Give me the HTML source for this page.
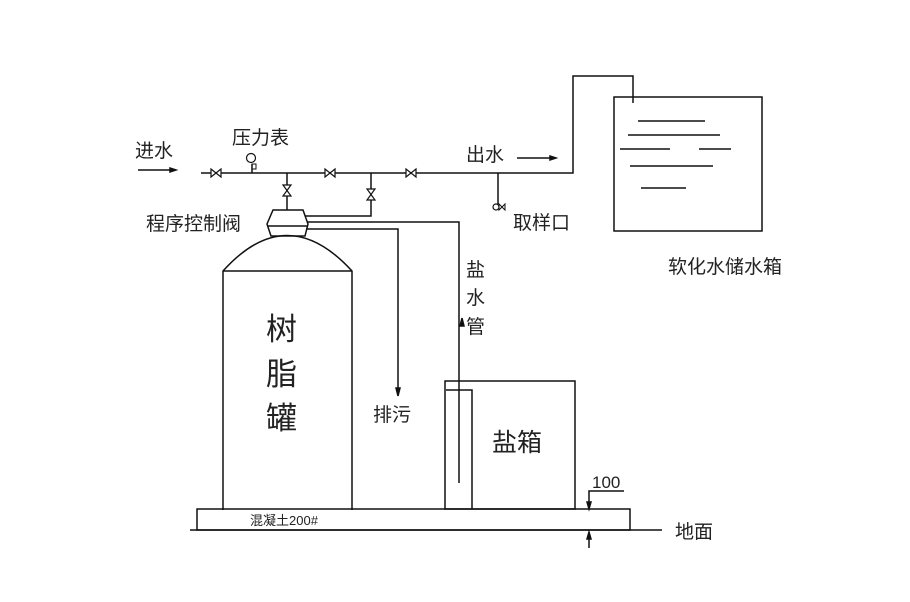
<!DOCTYPE html>
<html><head><meta charset="utf-8"><style>
html,body{margin:0;padding:0;background:#fff;}
svg{display:block;}
text{font-family:"Liberation Sans","Noto Sans CJK SC",sans-serif;fill:#222;}
</style></head><body>
<svg width="910" height="602" viewBox="0 0 910 602" xmlns="http://www.w3.org/2000/svg">
<g stroke="#111" stroke-width="1.5" fill="none">
<line x1="138" y1="170" x2="174" y2="170"/>
<polygon points="176,170 170,168 170,172" fill="#111"/>
<polyline points="201,173 573,173 573,76 633,76 633,103"/>
<g stroke-width="1.2">
<polygon points="211,169 211,177 221,169 221,177" fill="#fff"/>
<polygon points="325,169 325,177 335,169 335,177" fill="#fff"/>
<polygon points="406,169 406,177 416,169 416,177" fill="#fff"/>
</g>
<line x1="252" y1="173" x2="252" y2="164"/>
<circle cx="251" cy="158" r="4.5" stroke-width="1.2"/>
<rect x="252" y="164" width="4" height="5" stroke-width="1"/>
<line x1="287" y1="173" x2="287" y2="210"/>
<polygon points="283,185 291,185 283,196 291,196" fill="#fff" stroke-width="1.2"/>
<polyline points="305,216 371,216 371,173"/>
<polygon points="367,189 375,189 367,200 375,200" fill="#fff" stroke-width="1.2"/>
<path d="M273,210 L303,210 L308,224 L305,236 L271,236 L267,224 Z" fill="#fff"/>
<line x1="268" y1="226" x2="308" y2="226"/>
<polyline points="307,222 459,222 459,483"/>
<polyline points="306,229 398,229 398,392"/>
<polygon points="398,396 396,388 400,388" fill="#111"/>
<polygon points="462,318 460,326 464,326" fill="#111"/>
<path d="M223,510 L223,271 Q287,200 352,271 L352,510"/>
<line x1="223" y1="271" x2="352" y2="271"/>
<line x1="498" y1="173" x2="498" y2="204"/>
<circle cx="496" cy="207" r="3" stroke-width="1.2"/>
<polygon points="499,204 499,210 505,204 505,210" stroke-width="1"/>
<line x1="517" y1="158" x2="553" y2="158"/>
<polygon points="556,158 550,156 550,160" fill="#111"/>
<rect x="614" y="97" width="148" height="134"/>
<line x1="638" y1="121" x2="705" y2="121"/>
<line x1="628" y1="135" x2="720" y2="135"/>
<line x1="620" y1="149" x2="670" y2="149"/>
<line x1="699" y1="149" x2="731" y2="149"/>
<line x1="630" y1="166" x2="713" y2="166"/>
<line x1="641" y1="188" x2="686" y2="188"/>
<rect x="445" y="381" width="130" height="128"/>
<polyline points="446,390 472,390 472,509"/>
<rect x="197" y="509" width="433" height="21"/>
<line x1="190" y1="530" x2="662" y2="530"/>
<polyline points="624,491 589,491 589,505"/>
<polygon points="589,509 587,502 591,502" fill="#111"/>
<line x1="589" y1="536" x2="589" y2="548"/>
<polygon points="589,532 587,539 591,539" fill="#111"/>
</g>
<text x="135" y="157" font-size="19">进水</text>
<text x="232" y="144" font-size="19">压力表</text>
<text x="466" y="161" font-size="19">出水</text>
<text x="513" y="229" font-size="19">取样口</text>
<text x="668" y="273" font-size="19">软化水储水箱</text>
<text x="146" y="230" font-size="19">程序控制阀</text>
<text x="466" y="276" font-size="19">盐</text>
<text x="466" y="304" font-size="19">水</text>
<text x="466" y="333" font-size="19">管</text>
<text x="266" y="340" font-size="31">树</text>
<text x="266" y="385" font-size="31">脂</text>
<text x="266" y="429" font-size="31">罐</text>
<text x="373" y="421" font-size="19">排污</text>
<text x="492" y="451" font-size="25">盐箱</text>
<text x="250" y="525" font-size="13">混凝土200#</text>
<text x="592" y="488" font-size="17">100</text>
<text x="675" y="538" font-size="19">地面</text>
</svg>
</body></html>
